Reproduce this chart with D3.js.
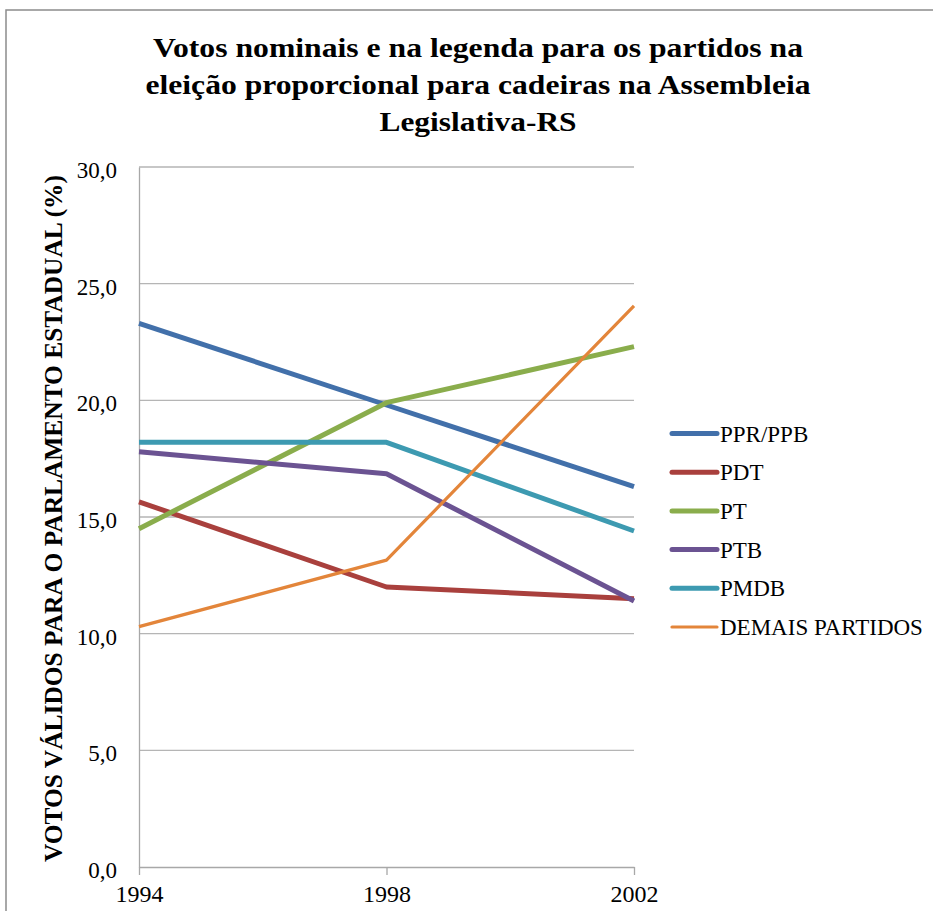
<!DOCTYPE html>
<html><head><meta charset="utf-8">
<script src="https://cdn.jsdelivr.net/npm/d3@7"></script>
<style>
html body svg text, html body svg g text { font-family: "Liberation Serif", "Times New Roman", serif !important; }
</style>
</head><body style="margin:0">
<script>
const years = ["1994","1998","2002"];
const seriesNames = ["PPR/PPB","PDT","PT","PTB","PMDB","DEMAIS PARTIDOS"];
const pprPpb = [23.3, 19.8, 16.3];
const pdt = [15.65, 12.0, 11.5];
const pt = [14.5, 19.9, 22.3];
const ptb = [17.8, 16.85, 11.4];
const pmdb = [18.2, 18.2, 14.4];
const demais = [10.3, 13.15, 24.05];
const yTicks = [0,5,10,15,20,25,30];
const colors = ["#4270AA","#A9403D","#8AAD4C","#6B5392","#3D9AB1","#E3853A"];
const widths = [5,5,5,5,5,3.2];
const titleLines = ["Votos nominais e na legenda para os partidos na","eleição proporcional  para cadeiras na Assembleia","Legislativa-RS"];
const titleWidths = [650, 665, 197];
const yTitle = "VOTOS VÁLIDOS PARA O PARLAMENTO ESTADUAL (%)";

const allSeries = [pprPpb, pdt, pt, ptb, pmdb, demais];
const W = 933, H = 911;
const FONT = "Liberation Serif";
const svg = d3.select("body").append("svg").attr("width", W).attr("height", H)
  .style("display","block");
svg.append("rect").attr("x",6).attr("y",10).attr("width",W+10).attr("height",H+10)
  .attr("fill","#fff").attr("stroke","#8c8c8c").attr("stroke-width",1.5);

const x = d3.scalePoint().domain(years).range([139, 634]);
const y = d3.scaleLinear().domain([0,30]).range([867, 167]);

function serif(sel, size, weight) {
  sel.style("font-family", FONT, "important")
     .style("font-size", size + "px")
     .style("font-weight", weight || "normal")
     .attr("fill", "#000");
}

// title
svg.append("g").selectAll("text").data(titleLines).join("text")
  .attr("x", 478).attr("y", (d,i)=>57 + i*36.8)
  .attr("text-anchor","middle")
  .call(serif, 28, "bold")
  .attr("textLength",(d,i)=>titleWidths[i]).attr("lengthAdjust","spacingAndGlyphs")
  .text(d=>d);

// gridlines
svg.append("g").selectAll("line").data(yTicks.filter(t=>t>0)).join("line")
  .attr("x1",139).attr("x2",634).attr("y1",d=>y(d)).attr("y2",d=>y(d))
  .attr("stroke","#b5b5b5").attr("stroke-width",1.3);

// y axis
const yAxis = svg.append("g").attr("transform","translate(139,0)")
  .call(d3.axisLeft(y).tickValues(yTicks).tickSize(0).tickPadding(22)
    .tickFormat(d=>d3.format(".1f")(d).replace(".",",")));
yAxis.attr("font-family", null).attr("font-size", null);
yAxis.select(".domain").attr("stroke","#a8a8a8").attr("stroke-width",1.3);
yAxis.selectAll("text").call(serif, 23).attr("dy","0.45em");

// x axis
const xAxis = svg.append("g").attr("transform","translate(0,867)")
  .call(d3.axisBottom(x).tickSize(8).tickPadding(10).tickSizeOuter(0));
xAxis.attr("font-family", null).attr("font-size", null);
xAxis.select(".domain").attr("stroke","#a8a8a8").attr("stroke-width",1.3);
xAxis.selectAll(".tick line").attr("stroke","#a8a8a8").attr("stroke-width",1.3);
xAxis.selectAll("text").call(serif, 24);

// y title
svg.append("text").attr("transform","translate(62,518.5) rotate(-90)")
  .attr("text-anchor","middle").call(serif, 25, "bold")
  .attr("textLength",687).attr("lengthAdjust","spacingAndGlyphs").text(yTitle);

// lines
const line = d3.line().x((d,i)=>x(years[i])).y(d=>y(d));
svg.append("g").selectAll("path").data(allSeries).join("path")
  .attr("d", line).attr("fill","none")
  .attr("stroke",(d,i)=>colors[i]).attr("stroke-width",(d,i)=>widths[i])
  .attr("stroke-linejoin","round").attr("stroke-linecap","butt");

// legend
const lg = svg.append("g").selectAll("g").data(seriesNames).join("g")
  .attr("transform",(d,i)=>`translate(672,${433.5 + i*38.7})`);
lg.append("line").attr("x1",0).attr("x2",45).attr("y1",0).attr("y2",0)
  .attr("stroke",(d,i)=>colors[i]).attr("stroke-width",(d,i)=>widths[i]).attr("stroke-linecap","round");
lg.append("text").attr("x",48).attr("y",8).call(serif, 23).text(d=>d);
</script>
</body></html>
